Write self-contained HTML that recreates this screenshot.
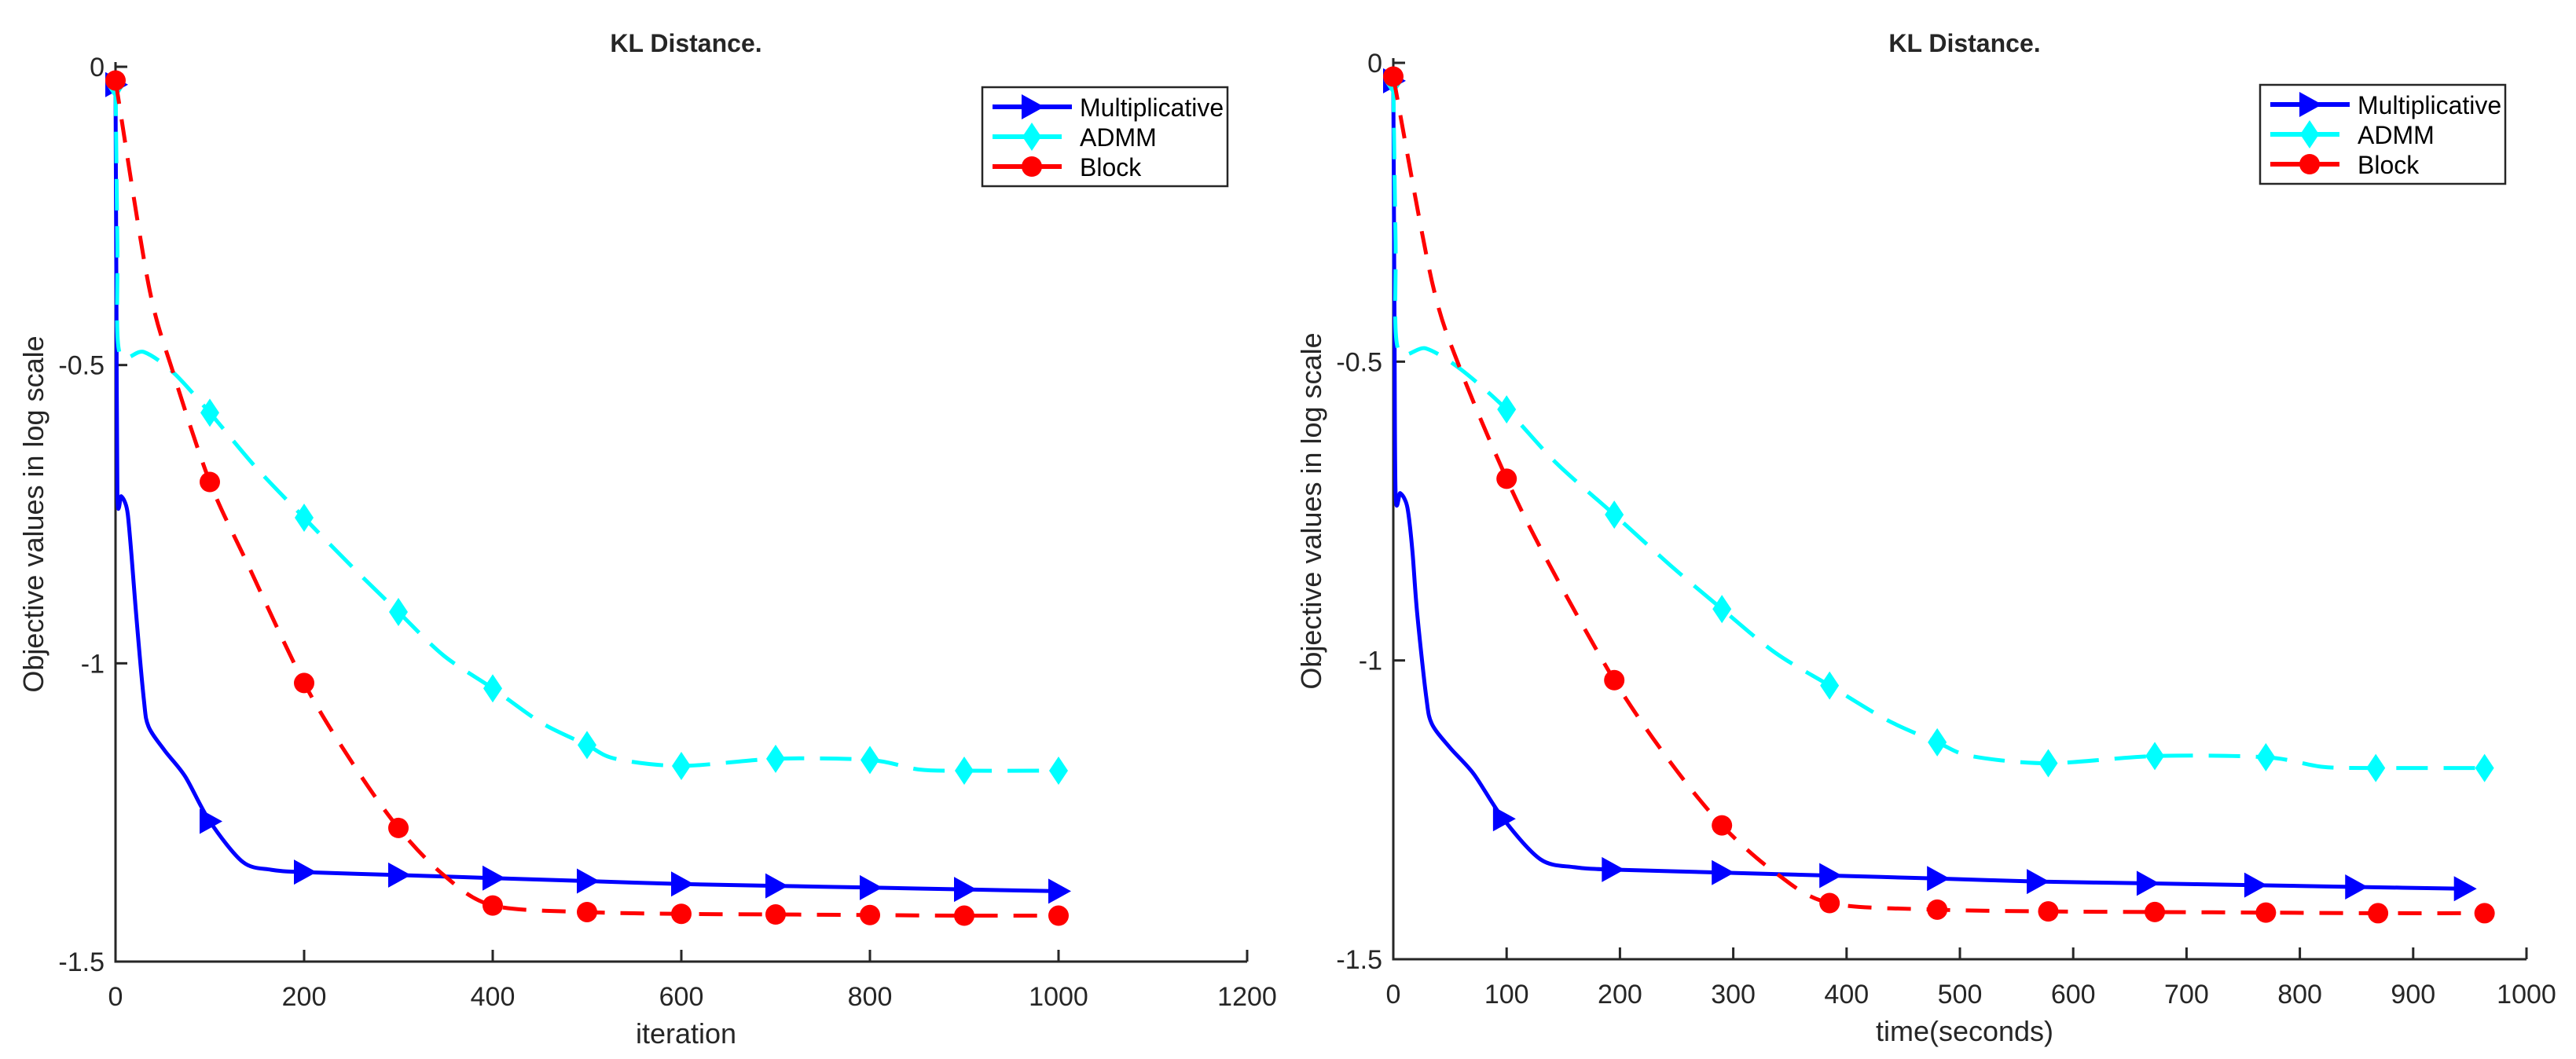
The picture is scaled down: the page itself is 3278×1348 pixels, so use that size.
<!DOCTYPE html>
<html><head><meta charset="utf-8"><style>
html,body{margin:0;padding:0;background:#fff;}
svg{display:block;}
text{font-family:"Liberation Sans",sans-serif;fill:#262626;}
</style></head><body>
<svg id="fig" width="3278" height="1348" viewBox="0 0 3278 1348" xmlns="http://www.w3.org/2000/svg"></svg>
<script>
// ---- data (shared y values, log scale) ----
const multIter = [0,1,2,6,10,13,17,22,30,35,52,74,100,135,165,200,300,400,500,600,700,800,900,1000];
const multVal  = [-0.03,-0.4,-0.72,-0.72,-0.73,-0.75,-0.82,-0.92,-1.06,-1.106,-1.146,-1.19,-1.265,-1.333,-1.346,-1.35,-1.355,-1.36,-1.365,-1.37,-1.373,-1.376,-1.379,-1.382];
const multTime = [0,1,2,6,10,13,17,21,29,34,50,71,97,130,160,193,290,385,480,568,665,760,849,945];
const admmIter = [0,2,4,30,61,100,148,200,252,300,348,400,452,500,530,600,700,800,852,900,1000];
const admmVal  = [-0.03,-0.3,-0.478,-0.478,-0.512,-0.58,-0.67,-0.756,-0.84,-0.914,-0.987,-1.042,-1.10,-1.137,-1.16,-1.172,-1.16,-1.162,-1.178,-1.18,-1.18];
const admmTime = [0,2,4,29,59,100,144,195,244,290,337,385,436,480,510,578,672,770,820,867,963];
const blockIter = [0,35,61,100,139,200,252,300,348,400,500,600,700,800,900,1000];
const blockVal  = [-0.023,-0.365,-0.512,-0.696,-0.83,-1.033,-1.169,-1.276,-1.355,-1.406,-1.417,-1.42,-1.421,-1.422,-1.423,-1.423];
const blockTime = [0,34,59,100,135,195,244,290,337,385,480,578,672,770,869,963];
const multMarkIdx = [0,12,15,16,17,18,19,20,21,22,23];
const admmMarkIdx = [0,5,7,9,11,13,15,16,17,19,20];
const blockMarkIdx = [0,3,5,7,9,10,11,12,13,14,15];
const leftTicksX = [0,200,400,600,800,1000,1200];
const rightTicksX = [0,100,200,300,400,500,600,700,800,900,1000];
const ticksY = [0,-0.5,-1,-1.5];
const tickYLabels = ["0","-0.5","-1","-1.5"];

const NS="http://www.w3.org/2000/svg";
const svg=document.getElementById('fig');
function mk(tag,attrs,parent){const e=document.createElementNS(NS,tag);for(const k in attrs)e.setAttribute(k,attrs[k]);(parent||svg).appendChild(e);return e;}

function smoothPath(pts){
  let d='M'+pts[0][0].toFixed(1)+','+pts[0][1].toFixed(1);
  for(let i=0;i<pts.length-1;i++){
    const p0=pts[Math.max(0,i-1)],p1=pts[i],p2=pts[i+1],p3=pts[Math.min(pts.length-1,i+2)];
    const t=0.15;
    let c1x=p1[0]+(p2[0]-p0[0])*t,c1y=p1[1]+(p2[1]-p0[1])*t;
    let c2x=p2[0]-(p3[0]-p1[0])*t,c2y=p2[1]-(p3[1]-p1[1])*t;
    if(c1x<p1[0])c1x=p1[0]; if(c2x>p2[0])c2x=p2[0];
    d+=' C'+c1x.toFixed(1)+','+c1y.toFixed(1)+' '+c2x.toFixed(1)+','+c2y.toFixed(1)+' '+p2[0].toFixed(1)+','+p2[1].toFixed(1);
  }
  return d;
}
function marker(g,type,x,y){
  let m;
  if(type==='tri'){m=mk('polygon',{points:(x-13)+','+(y-16)+' '+(x+16)+','+y+' '+(x-13)+','+(y+16),fill:'#0000ff'},g);}
  else if(type==='dia'){m=mk('polygon',{points:x+','+(y-18)+' '+(x+12)+','+y+' '+x+','+(y+18)+' '+(x-12)+','+y,fill:'#00ffff'},g);}
  else {m=mk('circle',{cx:x,cy:y,r:13,fill:'#ff0000'},g);}
  return m;
}

function chart(cfg){
  const X=v=>cfg.x0+(v-cfg.xmin)/(cfg.xmax-cfg.xmin)*(cfg.x1-cfg.x0);
  const Y=v=>cfg.y0+(v/-1.5)*(cfg.y1-cfg.y0);
  const g=mk('g',{});
  
  
  const ax=mk('path',{d:'M'+cfg.x0+','+(cfg.y0-6)+' L'+cfg.x0+','+cfg.y1+' L'+cfg.x1+','+cfg.y1,fill:'none',stroke:'#262626','stroke-width':3},g);
  
  
  cfg.ticksX.forEach(t=>{
    const tk=mk('line',{x1:X(t),x2:X(t),y1:cfg.y1,y2:cfg.y1-15,stroke:'#262626','stroke-width':3},g);
    
    
    const tl=mk('text',{x:X(t),y:cfg.y1+56,'text-anchor':'middle','font-size':34},g);
    tl.textContent=String(t);
    
    
  });
  ticksY.forEach((t,i)=>{
    const tk=mk('line',{x1:cfg.x0,x2:cfg.x0+15,y1:Y(t),y2:Y(t),stroke:'#262626','stroke-width':3},g);
    
    
    const tl=mk('text',{x:cfg.x0-14,y:Y(t)+12,'text-anchor':'end','font-size':34},g);
    tl.textContent=tickYLabels[i];
    
    
  });
  const title=mk('text',{x:(cfg.x0+cfg.x1)/2+6,y:66,'text-anchor':'middle','font-size':32,'font-weight':'bold'},g);
  title.textContent='KL Distance.';
  
  
  const xl=mk('text',{x:(cfg.x0+cfg.x1)/2+6,y:cfg.y1+104,'text-anchor':'middle','font-size':36},g);
  xl.textContent=cfg.xlabel;
  
  
  const yl=mk('text',{x:0,y:0,'text-anchor':'middle','font-size':36,transform:'translate('+(cfg.x0-92)+','+((cfg.y0+cfg.y1)/2)+') rotate(-90)'},g);
  yl.textContent='Objective values in log scale';
  
  

  const series=[
    {xs:cfg.mx,ys:multVal,mi:multMarkIdx,color:'#0000ff',dash:'',type:'tri',name:'multiplicative-line',w:5},
    {xs:cfg.ax,ys:admmVal,mi:admmMarkIdx,color:'#00ffff',dash:'40 20',type:'dia',name:'admm-line',w:5},
    {xs:cfg.bx,ys:blockVal,mi:blockMarkIdx,color:'#ff0000',dash:'30 20',type:'dot',name:'block-line',w:5}
  ];
  series.forEach(s=>{
    const pts=s.xs.map((v,i)=>[X(v),Y(s.ys[i])]);
    const p=mk('path',{d:smoothPath(pts),fill:'none',stroke:s.color,'stroke-width':s.w,'stroke-dasharray':s.dash,'stroke-linejoin':'round'},g);
    
    
    s.mi.forEach(i=>{
      const m=marker(g,s.type,X(s.xs[i]),Y(s.ys[i]));
      
      
    });
  });
  const lg=mk('g',{},g);
  
  
  const lb=mk('rect',{x:cfg.lx,y:cfg.ly,width:312,height:126,fill:'#fff',stroke:'#262626','stroke-width':2.5},lg);
  
  
  const names=['Multiplicative','ADMM','Block'];
  series.forEach((s,i)=>{
    const yy=cfg.ly+25+i*38;
    const x1=cfg.lx+13, x2=i===0?cfg.lx+114:cfg.lx+101;
    mk('line',{x1:x1,x2:x2,y1:yy,y2:yy,stroke:s.color,'stroke-width':6},lg);
    marker(lg,s.type,cfg.lx+63,yy);
    const t=mk('text',{x:cfg.lx+124,y:yy+12,'font-size':32},lg);
    t.style.fill='#000';
    t.textContent=names[i];
    
    
  });
}

chart({name:'iteration-chart',x0:147,x1:1587,xmin:0,xmax:1200,y0:85,y1:1224,ticksX:leftTicksX,xlabel:'iteration',
  mx:multIter,ax:admmIter,bx:blockIter,lx:1250,ly:111});
chart({name:'time-chart',x0:1773,x1:3215,xmin:0,xmax:1000,y0:80,y1:1221,ticksX:rightTicksX,xlabel:'time(seconds)',
  mx:multTime,ax:admmTime,bx:blockTime,lx:2876,ly:108});
</script>
</body></html>
